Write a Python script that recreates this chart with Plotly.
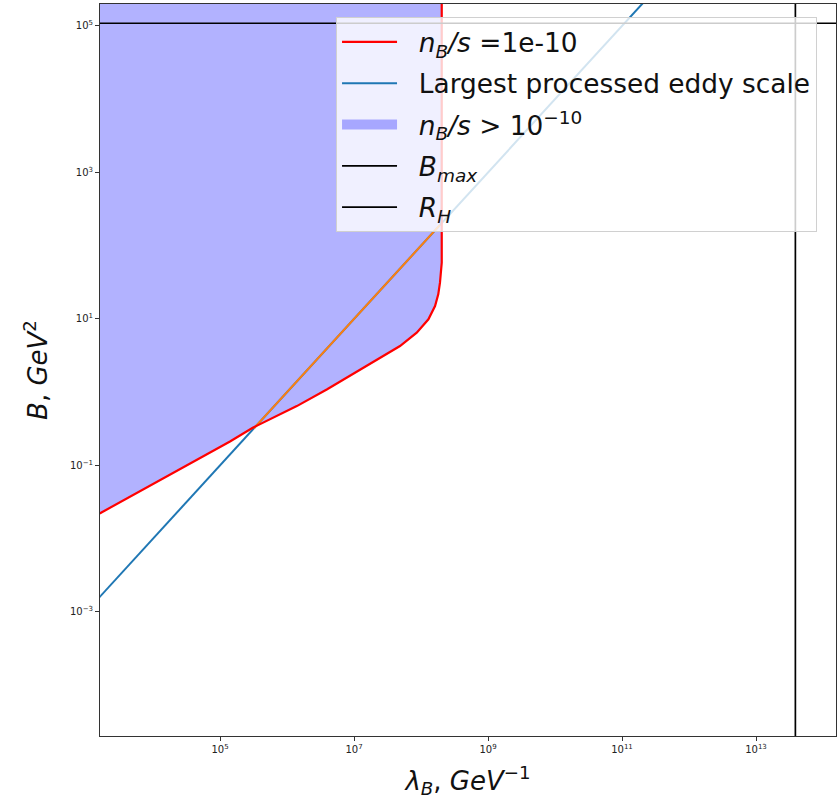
import plotly.graph_objects as go

# --- data ---
# boundary n_B/s = 1e-10 (lambda_B in GeV^-1, B in GeV^2)
red_lambda = [1.6e3, 1.41e5, 3.08e5, 4.43e5, 1.40e6, 3.92e6, 7.78e6, 1.23e7, 2.44e7,
              4.86e7, 8.63e7, 1.29e8, 1.62e8, 1.81e8, 1.92e8, 2.04e8, 2.04e8]
red_B = [0.0221, 0.212, 0.327, 0.383, 0.646, 1.09, 1.58, 2.05, 2.96,
         4.27, 6.50, 9.89, 15.0, 21.7, 31.3, 58.7, 1.0e6]

# largest processed eddy scale
eddy_lambda = [1.0e3, 1.0e12]
eddy_B = [1.0e-3, 1.0e6]

# part of the eddy line inside the region
eddy_in_lambda = [3.2e5, 1.92e8]
eddy_in_B = [0.32, 192.0]

B_max = 1.09e5
R_H = 3.87e13

x_range_exp = [3.209, 14.194]
y_range_exp = [-4.694, 5.30]

x_tick_vals = [1e5, 1e7, 1e9, 1e11, 1e13]
x_tick_text = ["10<sup>5</sup>", "10<sup>7</sup>", "10<sup>9</sup>", "10<sup>11</sup>", "10<sup>13</sup>"]
y_tick_vals = [1e-3, 1e-1, 1e1, 1e3, 1e5]
y_tick_text = ["10<sup>−3</sup>", "10<sup>−1</sup>", "10<sup>1</sup>", "10<sup>3</sup>", "10<sup>5</sup>"]

FILL_COLOR = "rgba(0,0,255,0.3)"
PAD = "\u00a0\u00a0"

# fill polygon: boundary, then across top and back down the left edge
x_left = 10 ** (x_range_exp[0] - 0.5)
fill_x = [x_left] + red_lambda + [x_left]
fill_y = [red_B[0]] + red_B + [red_B[-1]]

fig = go.Figure()

fig.add_trace(go.Scatter(
    x=fill_x, y=fill_y, mode="lines", fill="toself",
    fillcolor=FILL_COLOR, line=dict(width=0),
    showlegend=False, hoverinfo="skip"))

# legend-only entry for the filled region (wide patch)
fig.add_trace(go.Scatter(
    x=[None], y=[None], mode="lines",
    line=dict(color=FILL_COLOR, width=20),
    name=PAD + "<i>n</i><sub><i>B</i></sub><i>/s</i> > 10<sup>−10</sup>",
    legendrank=3, legendgroup="c"))

fig.add_trace(go.Scatter(
    x=eddy_lambda, y=eddy_B, mode="lines",
    line=dict(color="#1f77b4", width=2),
    name=PAD + "Largest processed eddy scale", legendrank=2, legendgroup="b"))

fig.add_trace(go.Scatter(
    x=eddy_in_lambda, y=eddy_in_B, mode="lines",
    line=dict(color="#ff7f0e", width=2), showlegend=False))

fig.add_trace(go.Scatter(
    x=red_lambda, y=red_B, mode="lines",
    line=dict(color="#ff0000", width=2.2),
    name=PAD + "<i>n</i><sub><i>B</i></sub><i>/s</i> =1e-10", legendrank=1, legendgroup="a"))

fig.add_trace(go.Scatter(
    x=[10 ** (x_range_exp[0] - 1), 10 ** (x_range_exp[1] + 1)], y=[B_max, B_max], mode="lines",
    line=dict(color="black", width=1.7),
    name=PAD + "<i>B</i><sub><i>max</i></sub>", legendrank=4, legendgroup="d"))

fig.add_trace(go.Scatter(
    x=[R_H, R_H], y=[10 ** (y_range_exp[0] - 1), 10 ** (y_range_exp[1] + 1)], mode="lines",
    line=dict(color="black", width=1.7),
    name=PAD + "<i>R</i><sub><i>H</i></sub>", legendrank=5, legendgroup="e"))

axis_common = dict(
    type="log", showgrid=False, zeroline=False,
    showline=True, linecolor="#333333", linewidth=1, mirror=True,
    ticks="outside", ticklen=4, tickcolor="#333333", tickwidth=1,
    tickfont=dict(family="DejaVu Sans", size=10, color="#222222"),
)

fig.update_layout(
    width=837, height=799,
    margin=dict(l=100, r=1, t=4, b=63),
    paper_bgcolor="white", plot_bgcolor="white",
    font=dict(family="DejaVu Sans", color="#111111"),
    showlegend=True,
    legend=dict(
        x=0.3207, y=0.982, xanchor="left", yanchor="top",
        bgcolor="rgba(255,255,255,0.8)", bordercolor="#d0d0d0", borderwidth=1,
        font=dict(family="DejaVu Sans", size=26.4, color="#111111"),
        traceorder="grouped", tracegroupgap=4, itemwidth=55,
    ),
    xaxis=dict(
        axis_common, range=x_range_exp, tickvals=x_tick_vals, ticktext=x_tick_text,
        title=dict(text="<i>λ</i><sub><i>B</i></sub>, <i>GeV</i><sup>−1</sup>",
                   font=dict(family="DejaVu Sans", size=26, color="#111111"), standoff=18),
    ),
    yaxis=dict(
        axis_common, range=y_range_exp, tickvals=y_tick_vals, ticktext=y_tick_text,
        title=dict(text="<i>B</i>, <i>GeV</i><sup>2</sup>",
                   font=dict(family="DejaVu Sans", size=26, color="#111111"), standoff=14),
    ),
)

fig.write_html("out.html")
